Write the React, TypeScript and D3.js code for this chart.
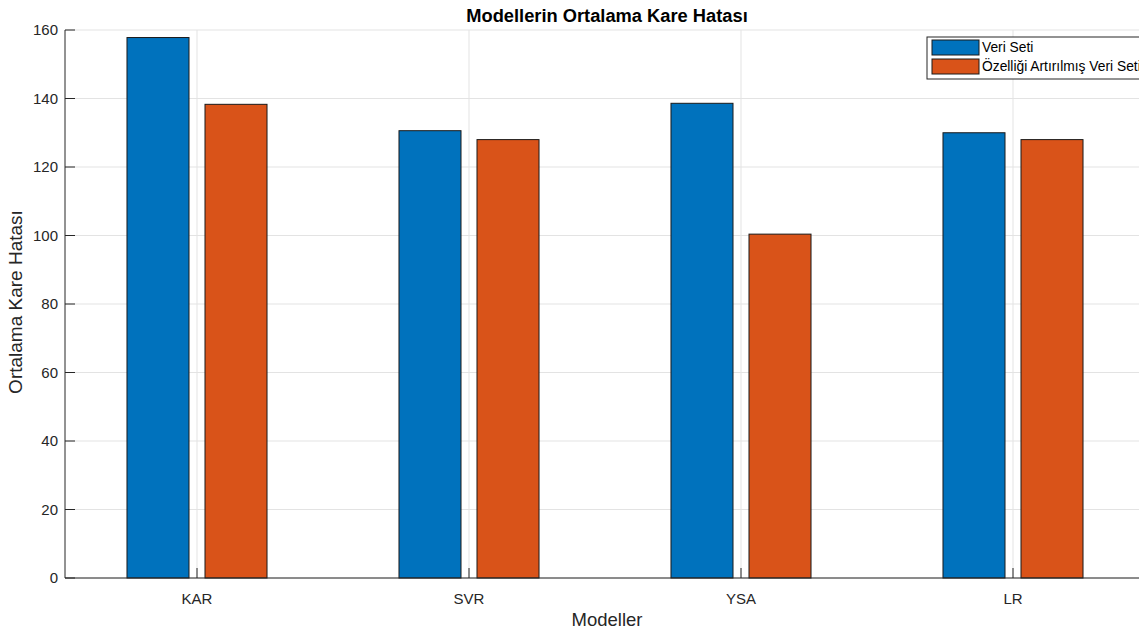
import React from "react";
import * as d3 from "d3";

const categories = ["KAR", "SVR", "YSA", "LR"];
const seriesNames = ["Veri Seti", "Özelliği Artırılmış Veri Seti"];
const veriSeti = [157.8, 130.6, 138.6, 130.0];
const ozellikli = [138.3, 128.0, 100.4, 128.0];
const yTicks = [0, 20, 40, 60, 80, 100, 120, 140, 160];
const colors = ["#0072BD", "#D95319"];

const W = 1139;
const H = 632;
const left = 65;
const top = 30;
const bottom = 578;
const font = "'Liberation Sans', Arial, Helvetica, sans-serif";

export default function App() {
  const x = d3.scaleLinear().domain([1, 4]).range([197, 1013]);
  const right = x(4.5);
  const y = d3.scaleLinear().domain([0, 160]).range([bottom, top]);
  const unit = x(2) - x(1);
  const barW = unit * 0.228;
  const offset = unit * 0.1434;
  const series = [veriSeti, ozellikli];
  const cx = (left + right) / 2;

  return (
    <svg
      width={W}
      height={H}
      style={{ position: "absolute", left: 0, top: 0, background: "#fff" }}
      fontFamily={font}
    >
      <rect x={0} y={0} width={W} height={H} fill="#fff" />
      {/* grid */}
      {yTicks.map((t) => (
        <line key={"gy" + t} x1={left} x2={right} y1={y(t)} y2={y(t)} stroke="#e3e3e3" strokeWidth={1} />
      ))}
      {categories.map((c, i) => (
        <line key={"gx" + c} x1={x(i + 1)} x2={x(i + 1)} y1={top} y2={bottom} stroke="#e3e3e3" strokeWidth={1} />
      ))}
      {/* bars */}
      {series.map((vals, s) =>
        vals.map((v, i) => {
          const c = x(i + 1) + (s === 0 ? -offset : offset);
          return (
            <rect
              key={`b${s}-${i}`}
              x={c - barW / 2}
              y={y(v)}
              width={barW}
              height={y(0) - y(v)}
              fill={colors[s]}
              stroke="#1a1a1a"
              strokeWidth={1}
            />
          );
        })
      )}
      {/* axes */}
      <line x1={left} x2={left} y1={top} y2={bottom} stroke="#262626" strokeWidth={1} />
      <line x1={left} x2={right} y1={bottom} y2={bottom} stroke="#262626" strokeWidth={1} />
      {yTicks.map((t) => (
        <g key={"ty" + t}>
          <line x1={left} x2={left + 10} y1={y(t)} y2={y(t)} stroke="#262626" />
          <text x={left - 7} y={y(t)} dy="0.35em" textAnchor="end" fontSize={15} fill="#262626">
            {t}
          </text>
        </g>
      ))}
      {categories.map((c, i) => (
        <g key={"tx" + c}>
          <line x1={x(i + 1)} x2={x(i + 1)} y1={bottom} y2={bottom - 10} stroke="#262626" />
          <text x={x(i + 1)} y={bottom + 26} textAnchor="middle" fontSize={15} fill="#262626">
            {c}
          </text>
        </g>
      ))}
      {/* labels */}
      <text x={cx} y={22} textAnchor="middle" fontSize={18.3} fontWeight="bold" fill="#000">
        Modellerin Ortalama Kare Hatası
      </text>
      <text x={cx} y={626} textAnchor="middle" fontSize={18.5} fill="#262626">
        Modeller
      </text>
      <text
        transform={`translate(22, ${(top + bottom) / 2 - 2}) rotate(-90)`}
        textAnchor="middle"
        fontSize={19}
        fill="#262626"
      >
        Ortalama Kare Hatası
      </text>
      {/* legend */}
      <g>
        <rect x={927} y={37} width={240} height={42} fill="#fff" stroke="#262626" strokeWidth={1} />
        {seriesNames.map((n, i) => (
          <g key={"lg" + i}>
            <rect x={932} y={40 + i * 19} width={47} height={15} fill={colors[i]} stroke="#1a1a1a" />
            <text x={982} y={47.5 + i * 19} dy="0.35em" fontSize={13.8} fill="#000">
              {n}
            </text>
          </g>
        ))}
      </g>
    </svg>
  );
}
